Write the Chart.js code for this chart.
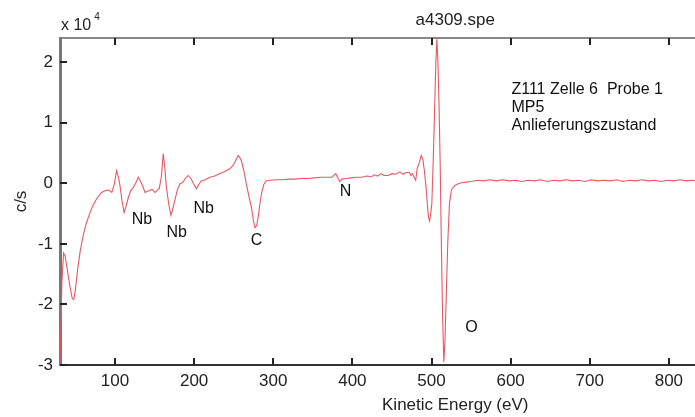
<!DOCTYPE html>
<html><head><meta charset="utf-8">
<script src="https://cdn.jsdelivr.net/npm/chart.js@4/dist/chart.umd.min.js"></script>
<style>html,body{margin:0;padding:0;background:#fff;overflow:hidden}#wrap{width:695px;height:417px;position:relative}</style>
</head><body><div id="wrap"><canvas id="c" width="695" height="417"></canvas></div>
<script>
// Kinetic energy (eV)
const energy = [30.5,33,35,37,40,43,46,48,50,53,56,60,64,68,72,77,83,88,92,96,99,102,104,106,109,111.5,114,117,120,123,126,129.5,132,134,138,141,144,147,150.5,153,156,158.5,161,163,165,168,170.7,173,176,179,182,186,189,192.5,196,199,203,206,209,214,220,226,232,238,245,249,252,255.6,258,260,263,266,269,272.5,275,277,279,281,283,285,288,291,296,304,312,320,328,336,344,352,360,368,374,379,382,384,387,392,398,405,412,418,424,428,432,436,440,445,450,455,460,464,468,472,474,476,478,480,482,484.8,487,489,491,493,494.5,496,497.5,499,500.4,502,503.8,505.5,506.8,508,509.3,511,512.2,514,515.6,517,518.6,520.5,522.7,525,527,530,533,538,543.7,550,558,566,574,582,590,598,606,614,622,630,638,646,654,662,670,678,686,694,702,710,718,726,734,742,750,758,766,774,782,790,798,806,814,822,830,834];
// counts per second, in units of 10^4
const counts = [-3.0,-1.6,-1.15,-1.2,-1.45,-1.7,-1.9,-1.92,-1.75,-1.4,-1.12,-0.85,-0.65,-0.5,-0.37,-0.25,-0.15,-0.12,-0.11,-0.15,-0.02,0.21,0.12,-0.01,-0.3,-0.48,-0.38,-0.23,-0.12,-0.07,0.0,0.1,0.04,-0.01,-0.15,-0.13,-0.12,-0.1,-0.15,-0.12,-0.08,0.1,0.49,0.25,-0.07,-0.35,-0.53,-0.42,-0.26,-0.1,-0.01,0.02,0.08,0.13,0.08,0.0,-0.09,-0.02,0.04,0.06,0.1,0.12,0.16,0.19,0.24,0.29,0.36,0.46,0.42,0.36,0.2,-0.01,-0.2,-0.4,-0.62,-0.73,-0.7,-0.56,-0.35,-0.18,-0.02,0.04,0.05,0.06,0.06,0.07,0.07,0.08,0.08,0.09,0.1,0.1,0.1,0.16,0.08,0.03,0.07,0.08,0.09,0.1,0.1,0.12,0.11,0.14,0.12,0.16,0.13,0.13,0.16,0.15,0.19,0.15,0.18,0.18,0.13,0.16,0.1,0.05,0.25,0.35,0.46,0.4,0.21,-0.05,-0.3,-0.55,-0.62,-0.5,-0.34,0.3,1.15,2.0,2.38,2.05,1.42,0.3,-0.78,-2.2,-2.95,-2.6,-1.89,-1.0,-0.34,-0.12,-0.07,-0.03,-0.01,0.01,0.02,0.03,0.05,0.04,0.06,0.04,0.06,0.04,0.05,0.03,0.05,0.04,0.06,0.03,0.05,0.04,0.06,0.04,0.05,0.03,0.06,0.04,0.05,0.04,0.06,0.03,0.05,0.04,0.06,0.04,0.05,0.03,0.05,0.04,0.06,0.04,0.05,0.04];
const xTicks = [100,200,300,400,500,600,700,800];
const yTicks = [-3,-2,-1,0,1,2];
const xRange = [30.5, 833];
const yRange = [-3, 2.4];
const peakLabels = ['Nb','Nb','Nb','C','N','O'];
const peakLabelX = [134,178,212,279,391.5,550.5];
const peakLabelY = [-0.6,-0.82,-0.42,-0.95,-0.14,-2.39];
const noteLines = ['Z111 Zelle 6  Probe 1','MP5','Anlieferungszustand'];
const noteX = 601;
const noteY = [1.54,1.245,0.95];
const titleText = 'a4309.spe';
const xTitle = 'Kinetic Energy (eV)';
const yTitle = 'c/s';
const yMultiplier = 'x 10';
const yExponent = '4';
const axesCenterEnergy = 530;

const FONT = '"Liberation Sans", Arial, sans-serif';

const decor = {
  id: 'decor',
  afterDraw(chart) {
    const ctx = chart.ctx, xs = chart.scales.x, ys = chart.scales.y, a = chart.chartArea;
    ctx.save();
    // inward ticks
    ctx.strokeStyle = '#222'; ctx.lineWidth = 2;
    xTicks.forEach(v => {
      const px = Math.round(xs.getPixelForValue(v));
      ctx.beginPath();
      ctx.moveTo(px, a.bottom); ctx.lineTo(px, a.bottom - 7);
      ctx.moveTo(px, a.top); ctx.lineTo(px, a.top + 7);
      ctx.stroke();
    });
    yTicks.forEach(v => {
      const py = Math.round(ys.getPixelForValue(v));
      ctx.beginPath(); ctx.moveTo(a.left, py); ctx.lineTo(a.left + 7, py); ctx.stroke();
    });
    // peak labels
    ctx.fillStyle = '#111';
    ctx.font = '16px ' + FONT;
    ctx.textAlign = 'center'; ctx.textBaseline = 'middle';
    peakLabels.forEach((t, i) => ctx.fillText(t, xs.getPixelForValue(peakLabelX[i]), ys.getPixelForValue(peakLabelY[i])));
    // note
    ctx.textAlign = 'left';
    noteLines.forEach((t, i) => ctx.fillText(t, xs.getPixelForValue(noteX), ys.getPixelForValue(noteY[i])));
    // title
    const cx = xs.getPixelForValue(axesCenterEnergy);
    ctx.font = '17px ' + FONT; ctx.fillStyle = '#222';
    ctx.textAlign = 'center'; ctx.textBaseline = 'alphabetic';
    ctx.fillText(titleText, cx, a.top - 13);
    ctx.fillText(xTitle, cx, a.bottom + 45);
    // y title
    ctx.save();
    ctx.translate(21, (a.top + a.bottom) / 2);
    ctx.rotate(-Math.PI / 2);
    ctx.textBaseline = 'middle';
    ctx.fillText(yTitle, 0, 0);
    ctx.restore();
    // multiplier
    ctx.textAlign = 'left';
    ctx.font = '16px ' + FONT;
    ctx.fillText(yMultiplier, a.left + 1, a.top - 8);
    const w = ctx.measureText(yMultiplier).width;
    ctx.font = '10px ' + FONT;
    ctx.fillText(yExponent, a.left + 4 + w, a.top - 18);
    ctx.restore();
  }
};

const tickFont = { family: FONT, size: 17 };
new Chart(document.getElementById('c'), {
  type: 'line',
  data: {
    datasets: [{
      data: energy.map((x, i) => ({ x, y: counts[i] })),
      borderColor: 'rgb(232,88,98)',
      borderWidth: 1.1,
      pointRadius: 0,
      tension: 0,
      fill: false,
      xAxisID: 'x', yAxisID: 'y'
    }]
  },
  options: {
    responsive: false,
    animation: false,
    layout: { padding: { top: 38, left: 0, right: 0, bottom: 0 } },
    plugins: { legend: { display: false }, tooltip: { enabled: false }, title: { display: false } },
    scales: {
      x: {
        type: 'linear', position: 'bottom', min: xRange[0], max: xRange[1],
        afterBuildTicks: s => { s.ticks = xTicks.map(v => ({ value: v })); },
        afterFit: s => { s.height = 52; },
        ticks: { font: tickFont, color: '#222', padding: 6, maxRotation: 0, autoSkip: false },
        grid: { display: false, drawTicks: false },
        border: { display: true, color: '#333', width: 2 }
      },
      x2: {
        type: 'linear', position: 'top', min: xRange[0], max: xRange[1],
        afterFit: s => { s.height = 0; },
        ticks: { display: false },
        grid: { display: false, drawTicks: false },
        border: { display: true, color: '#888', width: 2 }
      },
      y: {
        type: 'linear', min: yRange[0], max: yRange[1],
        afterBuildTicks: s => { s.ticks = yTicks.map(v => ({ value: v })); },
        afterFit: s => { s.width = 60; },
        ticks: { font: tickFont, color: '#222', padding: 7 },
        grid: { display: false, drawTicks: false },
        border: { display: true, color: '#777', width: 3 }
      }
    }
  },
  plugins: [decor]
});
</script>
</body></html>
